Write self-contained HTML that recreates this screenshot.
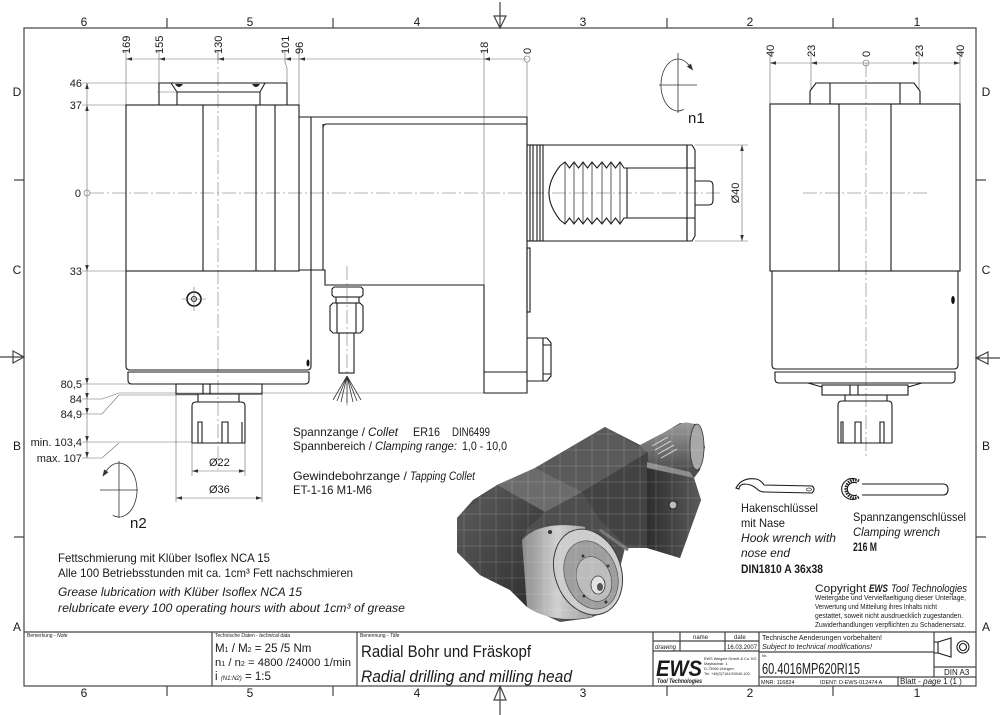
<!DOCTYPE html>
<html><head><meta charset="utf-8">
<style>
html,body{margin:0;padding:0;background:#fff}
svg{display:block}
text{font-family:"Liberation Sans","DejaVu Sans",sans-serif;fill:#1a1a1a}
.o{fill:none;stroke:#1a1a1a;stroke-width:1.1}
.t{fill:none;stroke:#333;stroke-width:0.8}
.d{fill:none;stroke:#6a6a6a;stroke-width:0.6}
.c{fill:none;stroke:#9a9a9a;stroke-width:0.8;stroke-dasharray:14 3 2 3}
.f{fill:none;stroke:#444;stroke-width:1.2}
.ah{fill:#333}
</style></head><body>
<svg width="1000" height="715" viewBox="0 0 1000 715" xmlns="http://www.w3.org/2000/svg">
<defs>
<linearGradient id="gl" x1="0" y1="0" x2="1" y2="1"><stop offset="0" stop-color="#5e5e5e"/><stop offset="1" stop-color="#2c2c2c"/></linearGradient>
<linearGradient id="gc" x1="0" y1="0" x2="1" y2="0"><stop offset="0" stop-color="#8a8a8a"/><stop offset="0.5" stop-color="#d0d0d0"/><stop offset="1" stop-color="#a0a0a0"/></linearGradient>
<linearGradient id="gr" x1="0" y1="0" x2="1" y2="0"><stop offset="0" stop-color="#2e2e2e"/><stop offset="1" stop-color="#5a5a5a"/></linearGradient>
<linearGradient id="gs" x1="0" y1="0" x2="0" y2="1"><stop offset="0" stop-color="#9a9a9a"/><stop offset="1" stop-color="#4a4a4a"/></linearGradient>
<clipPath id="cp"><path d="M457,518L473,500L497,485L535,468L605,427L642,446L680,423L697,424L705,447L700,470L694,478L701,500L680,558L647,548L625,548L622,560L610,610L590,618L560,622L527,607L510,590L480,575L457,552Z"/></clipPath>
</defs>

<!-- FRAME -->
<rect x="24" y="28" width="952" height="658" class="f"/>
<g class="f">
<path d="M167,18V28M333,18V28M667,18V28M833,18V28"/>
<path d="M167,686V696M333,686V696M667,686V696M833,686V696"/>
<path d="M14,180H24M14,537H24M976,180H986M976,537H986"/>
<path d="M500,2V28M494,16H506L500,28Z"/>
<path d="M500,715V686M494,700H506L500,686Z"/>
<path d="M0,357H24M13,351V363L24,357Z"/>
<path d="M1000,358H976M988,352V364L976,358Z"/>
</g>
<g font-size="12" text-anchor="middle">
<text x="84" y="26">6</text><text x="250" y="26">5</text><text x="417" y="26">4</text><text x="583" y="26">3</text><text x="750" y="26">2</text><text x="917" y="26">1</text>
<text x="84" y="697">6</text><text x="250" y="697">5</text><text x="417" y="697">4</text><text x="583" y="697">3</text><text x="750" y="697">2</text><text x="917" y="697">1</text>
<text x="17" y="96">D</text><text x="17" y="274">C</text><text x="17" y="450">B</text><text x="17" y="631">A</text>
<text x="986" y="96">D</text><text x="986" y="274">C</text><text x="986" y="450">B</text><text x="986" y="631">A</text>
</g>

<!-- CENTER LINES -->
<path class="c" d="M90,193H720M218,50V470M347,266V406M866,63V458M803,193H927"/>

<!-- LEFT VIEW DIMENSIONS (top) -->
<g class="d">
<path d="M126,59H527"/>
<path d="M126,50V105M159,50V83M218,50V60M285,50V62L287,68V83M299,50V105M484,50V285M527,62V117"/>
<circle cx="527" cy="59" r="3"/>
</g>
<g class="ah">
<polygon points="126,59 132,57.2 132,60.8"/><polygon points="159,59 165,57.2 165,60.8"/><polygon points="218,59 224,57.2 224,60.8"/><polygon points="285,59 291,57.2 291,60.8"/><polygon points="299,59 305,57.2 305,60.8"/><polygon points="484,59 490,57.2 490,60.8"/>
</g>
<g font-size="11">
<text transform="translate(130,54) rotate(-90)">169</text>
<text transform="translate(163,54) rotate(-90)">155</text>
<text transform="translate(222,54) rotate(-90)">130</text>
<text transform="translate(289,54) rotate(-90)">101</text>
<text transform="translate(303,54) rotate(-90)">96</text>
<text transform="translate(488,54) rotate(-90)">18</text>
<text transform="translate(531,54) rotate(-90)">0</text>
</g>

<!-- LEFT VIEW DIMENSIONS (left) -->
<g class="d">
<path d="M87,83V458"/>
<path d="M82,83H159M82,105H126M82,271H126M82,384H176"/>
<path d="M82,399H102L119,393H527M82,414H102L119,395H198M82,442H192M82,458H102L119,443"/>
<circle cx="87" cy="193" r="3"/>
</g>
<g class="ah">
<polygon points="87,83 85.2,89 88.8,89"/><polygon points="87,105 85.2,111 88.8,111"/>
<polygon points="87,271 85.2,265 88.8,265"/><polygon points="87,384 85.2,378 88.8,378"/>
<polygon points="87,399 85.2,393 88.8,393"/><polygon points="87,414 85.2,408 88.8,408"/>
<polygon points="87,442 85.2,436 88.8,436"/><polygon points="87,458 85.2,452 88.8,452"/>
</g>
<g font-size="11" text-anchor="end">
<text x="82" y="87">46</text><text x="82" y="109">37</text><text x="81" y="197">0</text><text x="82" y="275">33</text>
<text x="82" y="388">80,5</text><text x="82" y="403">84</text><text x="82" y="418">84,9</text>
<text x="82" y="446">min. 103,4</text><text x="82" y="462">max. 107</text>
</g>

<!-- LEFT VIEW BODY -->
<g class="o">
<rect x="126" y="105" width="173" height="166"/>
<path d="M203,105V271M256,105V271M275,105V271"/>
<path d="M159,105V83H287V105"/>
<path d="M171,83L177,92H260L265,83M177,92V105M260,92V105"/>
<path d="M126,271V366Q126,370 130,370H307Q311,370 311,366V271"/>
<path d="M128,372H309V380Q309,384 305,384H132Q128,384 128,380Z"/>
<rect x="176" y="384" width="86" height="10"/>
<path d="M203,384V394M210,384V394M198,394V402M239,394V402"/>
<path d="M192,443V406Q192,402 196,402H241Q245,402 245,406V443Z"/>
<path d="M198,443V422H202V443M222,443V422H228V443M242,443V422"/>
<circle cx="194" cy="299" r="7" stroke-width="1.6"/>
<circle cx="194" cy="299" r="2.5"/>
</g>
<path class="d" d="M157,92H177M182,299H206M194,287V311"/>
<path d="M175,84Q179,90 183,84Z M252,84Q256,90 260,84Z" fill="#222"/>
<ellipse cx="308" cy="363" rx="1.5" ry="3.5" fill="#111"/>

<!-- HOUSING -->
<g class="o">
<path d="M299,117H527V393H484V285H325V270H299"/>
<path d="M311,117V271M323,124V270M323,128Q323,124 327,124H527"/>
<path d="M484,372H527"/>
<rect x="527" y="248" width="3" height="64"/>
<path d="M527,338H547L551,343V376L547,381H527M543,338V381M543,345H551M543,374H551"/>
</g>

<!-- NOZZLE -->
<g class="o" stroke-width="0.9">
<path d="M332,289L334,287H361L363,289V295L361,297H334L332,295Z"/>
<rect x="336" y="297" width="23" height="6"/>
<path d="M330,306L333,303H360L363,306V330L360,333H333L330,330Z M337,303V333M356,303V333"/>
<rect x="339" y="333" width="15" height="40"/>
</g>
<path class="t" d="M347,376L333,400M347,376L337,401M347,376L341,402M347,376L347,403M347,376L353,402M347,376L357,401M347,376L361,400"/>

<!-- SHANK -->
<g class="o">
<rect x="527" y="145" width="16" height="96"/>
<path d="M530,145V241M533,145V241M537,145V241M540,145V241"/>
<path d="M543,145H687V241H543"/>
<path d="M687,145H692L695,150V236L692,241H687M687,145V168M687,218V241"/>
<path d="M627,168H695M627,218H695"/>
<path d="M560,166Q549,180 549,193Q549,206 560,220"/>
<path d="M560,166L565,162L569.5,168L574,162L578.5,168L583,162L587.5,168L592,162L597,168L602,162L606.5,168L611,162L615.5,168L620,162L624,168L627,168"/>
<path d="M560,220L565,224L569.5,218L574,224L578.5,218L583,224L587.5,218L592,224L597,218L602,224L606.5,218L611,224L615.5,218L620,224L624,218L627,218V168"/>
<path d="M695,181H709Q713,181 713,186V200Q713,205 709,205H695"/>
</g>
<path class="t" d="M565,162V224M574,162V224M583,162V224M592,162V224M602,162V224M611,162V224M620,162V224"/>
<path class="d" d="M695,145H748M695,241H748M742,145V241"/>
<polygon class="ah" points="742,145 740.2,151 743.8,151"/><polygon class="ah" points="742,241 740.2,235 743.8,235"/>
<text font-size="11" text-anchor="middle" transform="translate(739,193) rotate(-90)">Ø40</text>

<!-- n1 -->
<path class="t" d="M659,85H697M678,53V113"/>
<path class="t" d="M683.8,109.4A17,26 0 1 1 688.9,65.1"/>
<polygon class="ah" points="693.2,70.6 686.9,66.6 690.9,63.6"/>
<text x="688" y="123" font-size="15">n1</text>

<!-- Ø22 / Ø36 -->
<path class="d" d="M192,443V476M245,443V476M176,394V502M262,394V502M192,471H245M176,498H262"/>
<g class="ah">
<polygon points="192,471 198,469.2 198,472.8"/><polygon points="245,471 239,469.2 239,472.8"/>
<polygon points="176,498 182,496.2 182,499.8"/><polygon points="262,498 256,496.2 256,499.8"/>
</g>
<text x="209" y="466" font-size="11">Ø22</text>
<text x="209" y="493" font-size="11">Ø36</text>

<!-- n2 -->
<path class="t" d="M100,490H138M119,461V518"/>
<path class="t" d="M112.8,515.4A18,27 0 1 0 106.3,470.9"/>
<polygon class="ah" points="102.4,476.7 108.4,472.3 104.2,469.5"/>
<text x="130" y="528" font-size="15">n2</text>

<!-- RIGHT VIEW -->
<g class="d">
<path d="M770,63H960M770,50V104M811,50V90M919,50V90M960,50V104"/>
<circle cx="866" cy="63" r="3"/>
</g>
<g class="ah">
<polygon points="770,63 776,61.2 776,64.8"/><polygon points="811,63 817,61.2 817,64.8"/>
<polygon points="919,63 913,61.2 913,64.8"/><polygon points="960,63 954,61.2 954,64.8"/>
</g>
<g font-size="11">
<text transform="translate(774,57) rotate(-90)">40</text>
<text transform="translate(815,57) rotate(-90)">23</text>
<text transform="translate(870,57) rotate(-90)">0</text>
<text transform="translate(923,57) rotate(-90)">23</text>
<text transform="translate(964,57) rotate(-90)">40</text>
</g>
<g class="o">
<path d="M810,104V91L816,83H914L920,91V104M830,83V104M900,83V104"/>
<rect x="770" y="104" width="190" height="167"/>
<path d="M839,104V271M891,104V271"/>
<path d="M772,271V365Q772,369 776,369H954Q958,369 958,365V271"/>
<path d="M775,372H955V379Q955,383 951,383H779Q775,383 775,379Z"/>
<path d="M808,383L822,387M922,383L908,387"/>
<rect x="822" y="385" width="86" height="10"/>
<path d="M850,385V395M858,385V395M845,395V401M887,395V401"/>
<path d="M838,443V405Q838,401 842,401H888Q892,401 892,405V443Z"/>
<path d="M841,443V422H843V443M855,443V422H861V443M880,443V422H884V443"/>
</g>
<ellipse cx="953" cy="300" rx="1.8" ry="4" fill="#111"/>

<!-- TEXT BLOCK COLLET -->
<g font-size="12">
<text x="293" y="436" textLength="72" lengthAdjust="spacingAndGlyphs">Spannzange /</text>
<text x="368" y="436" textLength="30" lengthAdjust="spacingAndGlyphs" font-style="italic">Collet</text>
<text x="413" y="436" textLength="27" lengthAdjust="spacingAndGlyphs">ER16</text>
<text x="452" y="436" textLength="38" lengthAdjust="spacingAndGlyphs">DIN6499</text>
<text x="293" y="450" textLength="79" lengthAdjust="spacingAndGlyphs">Spannbereich /</text>
<text x="375" y="450" textLength="82" lengthAdjust="spacingAndGlyphs" font-style="italic">Clamping range:</text>
<text x="462" y="450" textLength="45" lengthAdjust="spacingAndGlyphs">1,0  -  10,0</text>
<text x="293" y="480" textLength="114" lengthAdjust="spacingAndGlyphs">Gewindebohrzange /</text>
<text x="410" y="480" textLength="65" lengthAdjust="spacingAndGlyphs" font-style="italic">Tapping Collet</text>
<text x="293" y="494" textLength="79" lengthAdjust="spacingAndGlyphs">ET-1-16  M1-M6</text>
</g>

<!-- GREASE TEXT -->
<g font-size="12">
<text x="58" y="562" textLength="212" lengthAdjust="spacingAndGlyphs">Fettschmierung mit Klüber Isoflex NCA 15</text>
<text x="58" y="577" textLength="295" lengthAdjust="spacingAndGlyphs">Alle 100 Betriebsstunden mit ca. 1cm³ Fett nachschmieren</text>
<text x="58" y="596" textLength="244" lengthAdjust="spacingAndGlyphs" font-style="italic">Grease lubrication with Klüber Isoflex NCA 15</text>
<text x="58" y="612" textLength="347" lengthAdjust="spacingAndGlyphs" font-style="italic">relubricate every 100 operating hours with about 1cm³ of grease</text>
</g>

<!-- 3D RENDER -->
<g>
<path d="M457,518L473,500L497,485L535,468L605,427L642,446L680,423L697,424L705,447L700,470L694,478L701,500L680,558L647,548L625,548L622,560L610,610L590,618L560,622L527,607L510,590L480,575L457,552Z" fill="#4e4e4e"/>
<path d="M640,445L682,423Q700,419 704,445Q704,471 690,473L655,472Z" fill="url(#gs)"/>
<ellipse cx="697" cy="447" rx="7" ry="23" fill="#a8a8a8" stroke="#333" stroke-width="0.8"/>
<path d="M652,446L668,437M655,450L671,441M658,454L674,445M661,458L677,449" stroke="#ddd" stroke-width="1"/>
<polygon points="497,485 535,468 605,427 648,452 582,492 545,512" fill="#6c6c6c"/>
<polygon points="535,468 605,427 648,452 582,492" fill="#5a5a5a"/>
<polygon points="457,518 497,485 545,512 528,528 522,540 527,607 510,590 480,575 457,552" fill="url(#gl)"/>
<polygon points="582,492 648,452 647,548 625,545 600,520" fill="#434343"/>
<polygon points="647,462 690,472 694,478 647,468" fill="#8c8c8c"/>
<polygon points="647,468 694,478 701,500 680,558 647,548" fill="url(#gr)"/>
<path d="M522,540Q540,520 585,527L592,617Q552,624 527,607Z" fill="url(#gc)"/>
<ellipse cx="588" cy="572" rx="33" ry="44" transform="rotate(-20 588 572)" fill="#cdcdcd" stroke="#3a3a3a" stroke-width="1"/>
<ellipse cx="591" cy="575" rx="26" ry="35" transform="rotate(-20 591 575)" fill="#9e9e9e" stroke="#444" stroke-width="0.6"/>
<ellipse cx="594" cy="579" rx="17" ry="23" transform="rotate(-20 594 579)" fill="#bcbcbc" stroke="#444" stroke-width="0.6"/>
<ellipse cx="598" cy="585" rx="7" ry="9" fill="#e2e2e2" stroke="#333" stroke-width="0.8"/>
<ellipse cx="600" cy="587" rx="3" ry="4" fill="#555"/>
<circle cx="583" cy="556" r="1.5" fill="#333"/><circle cx="608" cy="566" r="1.5" fill="#333"/><circle cx="584" cy="596" r="1.5" fill="#333"/><circle cx="606" cy="602" r="1.5" fill="#333"/>
<circle cx="550" cy="532" r="2" fill="#333"/>
<circle cx="673" cy="505" r="4" fill="#bbb" stroke="#222" stroke-width="1"/>
<path d="M600,530L628,550" stroke="#777" stroke-width="3"/>
<g clip-path="url(#cp)" stroke="#fff" stroke-opacity="0.18" stroke-width="0.8">
<path d="M464,420V625M480,420V625M496,420V625M512,420V625M528,420V625M544,420V625M560,420V625M576,420V625M592,420V625M608,420V625M624,420V625M640,420V625M656,420V625M672,420V625M688,420V625"/>
<path d="M455,434H706M455,450H706M455,466H706M455,482H706M455,498H706M455,514H706M455,530H706M455,546H706M455,562H706M455,578H706M455,594H706M455,610H706"/>
</g>
</g>

<!-- WRENCHES -->
<path class="o" stroke-width="0.9" d="M736,488Q742,477 756,479Q761,480 764,485L812,486Q816,489 812,493L765,492Q760,492 757,489Q752,484 744,484Q739,485 739,489Z"/>
<ellipse cx="809" cy="489.5" rx="2.5" ry="1.5" class="t"/>
<path d="M859,481A9,9 0 1 0 859,497" fill="none" stroke="#222" stroke-width="3" stroke-dasharray="1.5 1"/>
<path class="o" stroke-width="0.9" d="M856,479A11,10.5 0 1 0 856,499M857,483A7,6.5 0 1 0 857,495"/>
<path class="o" stroke-width="0.9" d="M862,484H943Q948,484 948,489.5Q948,495 943,495H862"/>

<g font-size="12">
<text x="741" y="512" textLength="77" lengthAdjust="spacingAndGlyphs">Hakenschlüssel</text>
<text x="741" y="527" textLength="44" lengthAdjust="spacingAndGlyphs">mit Nase</text>
<text x="741" y="542" textLength="95" lengthAdjust="spacingAndGlyphs" font-style="italic">Hook wrench with</text>
<text x="741" y="557" textLength="49" lengthAdjust="spacingAndGlyphs" font-style="italic">nose end</text>
<text x="741" y="573" textLength="82" lengthAdjust="spacingAndGlyphs" font-weight="bold">DIN1810 A 36x38</text>
<text x="853" y="521" textLength="113" lengthAdjust="spacingAndGlyphs">Spannzangenschlüssel</text>
<text x="853" y="536" textLength="87" lengthAdjust="spacingAndGlyphs" font-style="italic">Clamping wrench</text>
<text x="853" y="551" textLength="24" lengthAdjust="spacingAndGlyphs" font-weight="bold">216 M</text>
</g>
<g font-size="11">
<text x="815" y="592" textLength="51" lengthAdjust="spacingAndGlyphs">Copyright</text>
<text x="869" y="592" textLength="19" lengthAdjust="spacingAndGlyphs" font-weight="bold" font-style="italic">EWS</text>
<text x="891" y="592" textLength="76" lengthAdjust="spacingAndGlyphs" font-style="italic">Tool Technologies</text>
</g>
<g font-size="7">
<text x="815" y="600" textLength="151" lengthAdjust="spacingAndGlyphs">Weitergabe und Vervielfaeltigung dieser Unterlage,</text>
<text x="815" y="609" textLength="122" lengthAdjust="spacingAndGlyphs">Verwertung und Mitteilung ihres Inhalts nicht</text>
<text x="815" y="618" textLength="148" lengthAdjust="spacingAndGlyphs">gestattet, soweit nicht ausdruecklich zugestanden.</text>
<text x="815" y="627" textLength="151" lengthAdjust="spacingAndGlyphs">Zuwiderhandlungen verpflichten zu Schadenersatz.</text>
</g>

<!-- TITLE BLOCK -->
<g class="f">
<path d="M24,632H976"/>
<path d="M212,632V686M357,632V686M653,632V686M759,632V686"/>
<path d="M653,641H759M653,651H759M680,632V651M725,632V651"/>
<path d="M759,652H934M759,677H976M934,632V677M934,667H976M898,677V686"/>
</g>
<g font-size="5" fill="#333">
<text x="27" y="637">Bemerkung - <tspan font-style="italic">Note</tspan></text>
<text x="215" y="637">Technische Daten - <tspan font-style="italic">technical data</tspan></text>
<text x="360" y="637">Benennung - <tspan font-style="italic">Title</tspan></text>
</g>
<text x="215" y="652" font-size="11.5">M<tspan font-size="7">1</tspan> / M<tspan font-size="7">2</tspan> = 25  /5   Nm</text>
<text x="215" y="666" font-size="11" textLength="136" lengthAdjust="spacingAndGlyphs">n<tspan font-size="7">1</tspan> / n<tspan font-size="7">2</tspan> = 4800 /24000 1/min</text>
<text x="215" y="680" font-size="11.5">i  <tspan font-size="6" font-style="italic">(N1:N2)</tspan>  = 1:5</text>
<text x="361" y="657" font-size="17" textLength="170" lengthAdjust="spacingAndGlyphs">Radial Bohr und Fräskopf</text>
<text x="361" y="682" font-size="17" font-style="italic" textLength="211" lengthAdjust="spacingAndGlyphs">Radial drilling and milling head</text>

<g font-size="6" fill="#333">
<text x="693" y="639">name</text><text x="734" y="639">date</text>
<text x="655" y="649" font-style="italic">drawing</text><text x="727" y="649">16.03.2007</text>
</g>
<text x="656" y="676" font-size="22" font-weight="bold" font-style="italic" textLength="46" lengthAdjust="spacingAndGlyphs" fill="#000">EWS</text>
<text x="657" y="683" font-size="6" font-weight="bold" font-style="italic" textLength="45" lengthAdjust="spacingAndGlyphs">Tool Technologies</text>
<g font-size="3.8" fill="#555">
<text x="704" y="660">EWS Weigele GmbH &amp; Co. KG</text>
<text x="704" y="665">Maybachstr. 1</text>
<text x="704" y="670">D-73066 Uhingen</text>
<text x="704" y="675">Tel. +49(0)7161/93040-100</text>
</g>
<text x="762" y="640" font-size="7.5" textLength="120" lengthAdjust="spacingAndGlyphs">Technische Aenderungen vorbehalten!</text>
<text x="762" y="649" font-size="7.5" font-style="italic" textLength="110" lengthAdjust="spacingAndGlyphs">Subject to technical modifications!</text>
<text x="762" y="657" font-size="4">Nr.</text>
<text x="762" y="674" font-size="16" textLength="98" lengthAdjust="spacingAndGlyphs">60.4016MP620RI15</text>
<text x="761" y="684" font-size="5.5">MNR: 116824</text>
<text x="820" y="684" font-size="5.5">IDENT: D-EWS-012474 A</text>
<text x="900" y="684" font-size="8">Blatt - <tspan font-style="italic">page</tspan>  1 (1 )</text>
<text x="944" y="675" font-size="8">DIN A3</text>
<path class="o" d="M938,642L951,638V657L938,653ZM938,642H934M938,653H934"/>
<circle cx="963" cy="647" r="6" class="o"/>
<circle cx="963" cy="647" r="3.5" class="o"/>
</svg>
</body></html>
